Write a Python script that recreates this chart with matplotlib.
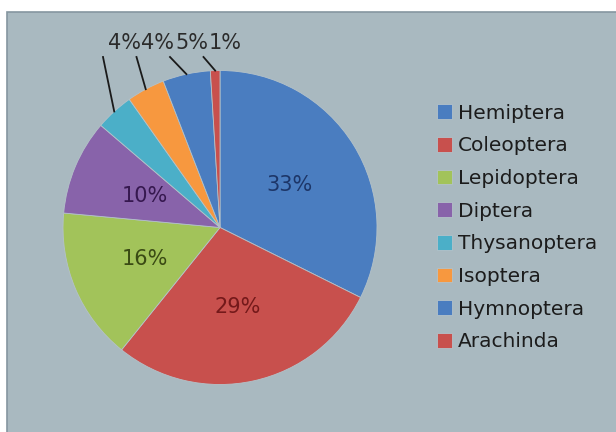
import numpy as np
import matplotlib.pyplot as plt
from matplotlib.patches import Rectangle

orders = ['Hemiptera', 'Coleoptera', 'Lepidoptera', 'Diptera',
          'Thysanoptera', 'Isoptera', 'Hymnoptera', 'Arachinda']
percents = [33, 29, 16, 10, 4, 4, 5, 1]
colors = ['#4a7dc0', '#c8504d', '#a2c35a', '#8863aa',
          '#4bafc8', '#f7983f', '#4a7dc0', '#c8504d']
# darker tint of each slice for the labels drawn inside it
inner_colors = ['#1d3668', '#74191a', '#3a4a14', '#36184f']
n_inside = 4

W, H = 616, 432
fig = plt.figure(figsize=(W / 100, H / 100), dpi=100, facecolor='white')
ax = fig.add_axes([0, 0, 1, 1])

# panel background
ax.add_patch(Rectangle((7, -5), W, H - 12 + 5, facecolor='#a9b9c0',
                       edgecolor='#8596a0', linewidth=1.2, zorder=0))

cx, cy, r = 220, H - 227.5, 157
wedges, _ = ax.pie(percents, colors=colors, startangle=90, counterclock=False,
                   center=(cx, cy), radius=r,
                   wedgeprops=dict(edgecolor='#b4c2c9', linewidth=0.6))

# labels of the large slices sit halfway out along the slice
for i in range(n_inside):
    w = wedges[i]
    mid = np.deg2rad((w.theta1 + w.theta2) / 2)
    ax.text(cx + 0.52 * r * np.cos(mid), cy + 0.52 * r * np.sin(mid),
            '%d%%' % percents[i], ha='center', va='center',
            fontsize=15, color=inner_colors[i], zorder=5)

# small slices get a row of labels above the pie with leader lines
row_y = H - 43
x0, step = 108, 33.5
for j, i in enumerate(range(n_inside, len(percents))):
    w = wedges[i]
    mid = np.deg2rad((w.theta1 + w.theta2) / 2)
    tx = x0 + j * step
    ax.text(tx, row_y, '%d%%' % percents[i], ha='left', va='center',
            fontsize=15, color='#2b2b2b', zorder=5)
    ax.plot([tx - 5, cx + r * np.cos(mid)], [row_y - 14, cy + r * np.sin(mid)],
            color='#1a1a1a', linewidth=1.3, zorder=4)

ax.legend(wedges, orders, loc='center left', bbox_to_anchor=(437 / W, 204.5 / H),
          frameon=False, fontsize=14.5, handlelength=0.75, handleheight=0.75,
          handletextpad=0.3, labelspacing=0.68, borderpad=0, borderaxespad=0,
          labelcolor='#1c1c1c')

ax.set_xlim(0, W)
ax.set_ylim(0, H)
ax.set_aspect('auto')
ax.axis('off')

fig.savefig('out.png', dpi=100, facecolor='white')
